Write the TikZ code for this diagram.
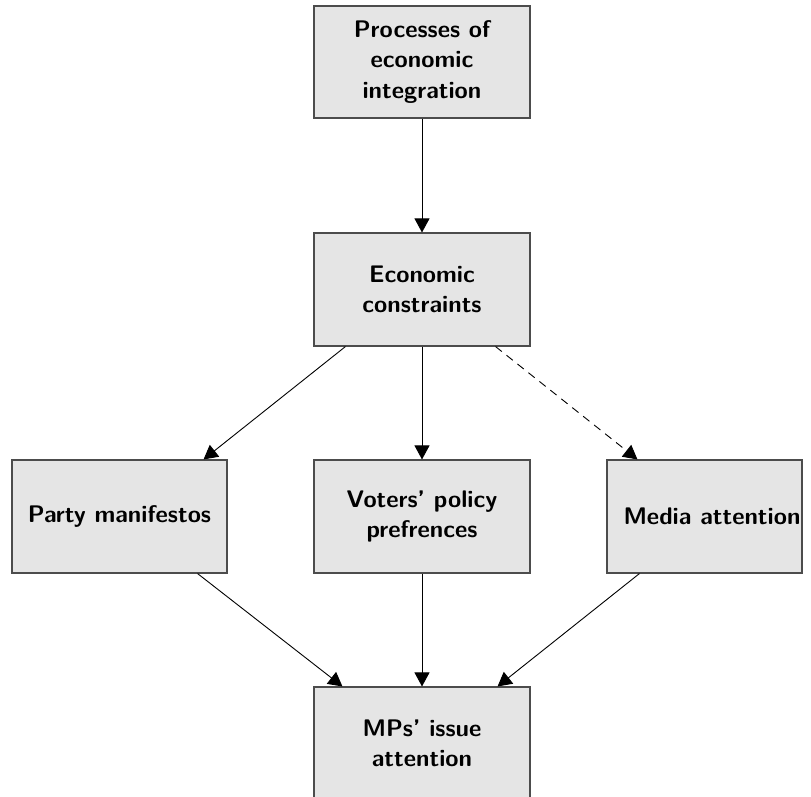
\documentclass[tikz,border=0pt]{standalone}
\usetikzlibrary{arrows.meta,calc}
\tikzset{
  boxfont/.style={font=\sffamily\bfseries\fontsize{24}{30.5}\selectfont},
  box/.style={boxfont, draw=black!70, fill=black!10, line width=1.1pt,
    minimum width=216pt, minimum height=113pt, inner sep=0pt, align=center},
  arr/.style={-{Triangle[length=14pt,width=15pt]}, line width=0.9pt, draw=black},
  dashedarr/.style={arr, dash pattern=on 8pt off 6pt}
}
\begin{document}
\begin{tikzpicture}[x=1pt,y=1pt]
\useasboundingbox (0,0) rectangle (811,-796);
\clip (0,0) rectangle (811,-796);
\node[box, minimum height=112pt] (top) at (422,-62) {Processes of\\economic\\integration};
\node[box] (econ) at (422,-289.5) {Economic\\constraints};
\node[box, minimum width=215pt] (party) at (119.5,-516.5) {Party manifestos};
\node[box] (voters) at (422,-516.5) {Voters' policy\\prefrences};
\node[box, minimum width=195pt, label={[boxfont, xshift=7.5pt]center:Media attention}] (media) at (704.5,-516.5) {};
\node[box] (mps) at (422,-743.5) {MPs' issue\\attention};
\draw[arr] (top.south) -- (econ.north);
\draw[arr] ($(econ.south west)+(32,0)$) -- ($(party.north east)+(-24,0)$);
\draw[arr] (econ.south) -- (voters.north);
\draw[dashedarr] ($(econ.south east)+(-35,0)$) -- ($(media.north west)+(31,0)$);
\draw[arr] ($(party.south east)+(-30,0)$) -- ($(mps.north west)+(29,0)$);
\draw[arr] (voters.south) -- (mps.north);
\draw[arr] ($(media.south west)+(33,0)$) -- ($(mps.north east)+(-33,0)$);
\end{tikzpicture}
\end{document}
